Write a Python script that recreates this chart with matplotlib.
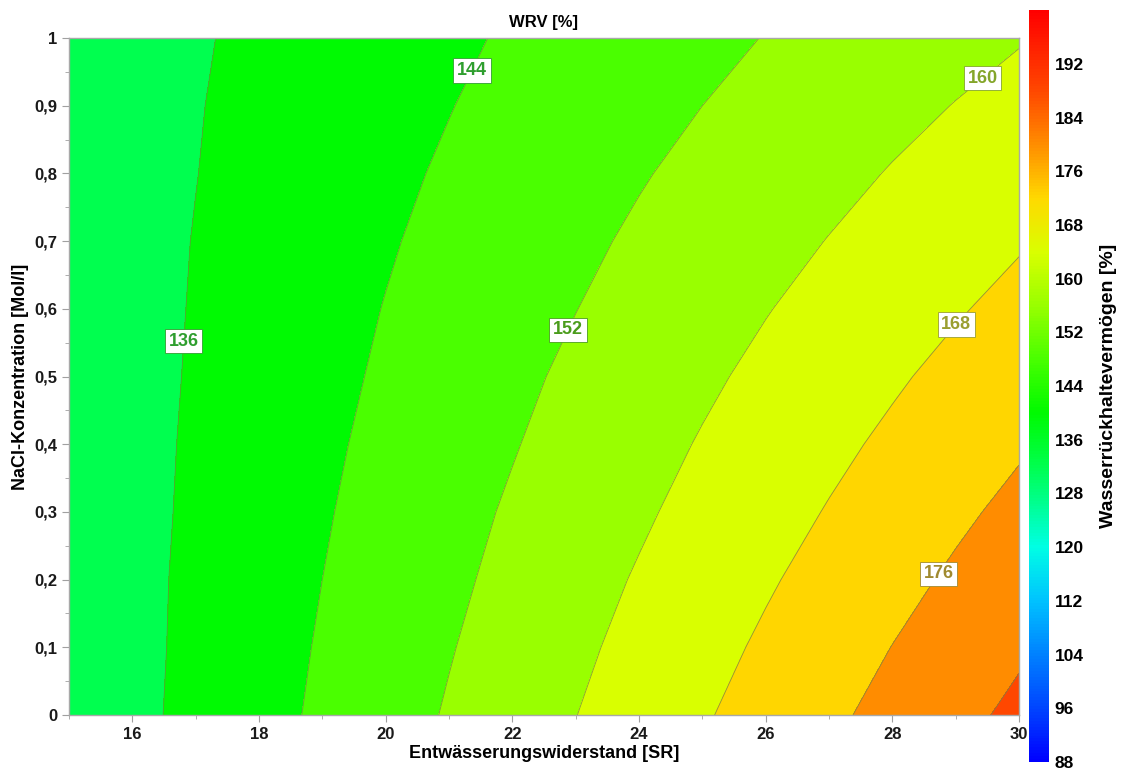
import matplotlib
matplotlib.use("Agg")
import matplotlib.pyplot as plt
import numpy as np
from matplotlib.colors import LinearSegmentedColormap, Normalize
from matplotlib.cm import ScalarMappable
from matplotlib.ticker import FuncFormatter, MultipleLocator

plt.rcParams['font.family'] = ['Liberation Sans', 'DejaVu Sans']

# grid: SR (x) and NaCl concentration (y)
sr_values = np.arange(15, 31, 1)
nacl_values = np.round(np.arange(0, 1.01, 0.1), 1)

# WRV [%] at each grid point, one row per NaCl concentration
wrv_rows = [
    [130.5, 134.2, 137.9, 141.5, 145.2, 148.9, 152.6, 156.2, 159.9, 163.6, 167.3, 170.9, 174.6, 178.3, 182.0, 185.6],
    [130.6, 134.1, 137.6, 141.1, 144.6, 148.1, 151.6, 155.1, 158.6, 162.1, 165.6, 169.1, 172.6, 176.1, 179.5, 183.0],
    [130.8, 134.1, 137.4, 140.7, 144.0, 147.3, 150.6, 153.9, 157.3, 160.6, 163.9, 167.2, 170.5, 173.8, 177.1, 180.4],
    [130.9, 134.0, 137.1, 140.3, 143.4, 146.5, 149.7, 152.8, 155.9, 159.0, 162.2, 165.3, 168.4, 171.6, 174.7, 177.8],
    [131.0, 133.9, 136.9, 139.8, 142.8, 145.7, 148.7, 151.6, 154.6, 157.5, 160.5, 163.4, 166.4, 169.3, 172.3, 175.2],
    [131.1, 133.9, 136.6, 139.4, 142.2, 144.9, 147.7, 150.5, 153.3, 156.0, 158.8, 161.6, 164.3, 167.1, 169.9, 172.6],
    [131.2, 133.8, 136.4, 139.0, 141.6, 144.2, 146.7, 149.3, 151.9, 154.5, 157.1, 159.7, 162.3, 164.8, 167.4, 170.0],
    [131.3, 133.8, 136.2, 138.6, 141.0, 143.4, 145.8, 148.2, 150.6, 153.0, 155.4, 157.8, 160.2, 162.6, 165.0, 167.4],
    [131.5, 133.7, 135.9, 138.1, 140.4, 142.6, 144.8, 147.0, 149.2, 151.5, 153.7, 155.9, 158.1, 160.4, 162.6, 164.8],
    [131.6, 133.6, 135.7, 137.7, 139.7, 141.8, 143.8, 145.9, 147.9, 150.0, 152.0, 154.0, 156.1, 158.1, 160.2, 162.2],
    [131.7, 133.6, 135.4, 137.3, 139.1, 141.0, 142.9, 144.7, 146.6, 148.4, 150.3, 152.2, 154.0, 155.9, 157.7, 159.6],
]

levels = np.arange(88, 201, 8)
cbar_ticks = np.arange(88, 193, 8)
label_spots = [(16.82, 0.552), (21.35, 0.953), (22.88, 0.569),
               (29.43, 0.94), (28.97, 0.58), (28.75, 0.207)]
label_colors = {136: '#2f9e2f', 144: '#2f9e2f', 152: '#4a9c1c',
                160: '#84a52a', 168: '#9a9e30', 176: '#a08a30'}

# colour scale blue -> cyan -> green -> yellow -> orange -> red
cmap_nodes = [
    (88, (0, 0, 255)), (96, (0, 70, 255)), (104, (0, 130, 255)),
    (112, (0, 195, 255)), (120, (0, 255, 228)), (126, (0, 255, 150)),
    (132, (0, 255, 78)), (140, (0, 250, 0)), (148, (72, 255, 0)),
    (156, (152, 255, 0)), (164, (217, 255, 0)), (172, (255, 217, 0)),
    (180, (255, 142, 0)), (188, (255, 72, 0)), (200, (255, 0, 0)),
]
vmin, vmax = 88, 200
cmap = LinearSegmentedColormap.from_list(
    'wrv', [((v - vmin) / (vmax - vmin), tuple(c / 255 for c in rgb)) for v, rgb in cmap_nodes])
norm = Normalize(vmin=vmin, vmax=vmax)

X, Y = np.meshgrid(sr_values, nacl_values)
Z = np.array(wrv_rows)

fig = plt.figure(figsize=(11.34, 7.78), dpi=100)
ax = fig.add_axes([0.0608, 0.081, 0.8378, 0.870])
cax = fig.add_axes([0.9074, 0.0206, 0.0176, 0.9664])

ax.contourf(X, Y, Z, levels=levels, cmap=cmap, norm=norm)
cs = ax.contour(X, Y, Z, levels=levels, colors='#6f8a45', linewidths=0.6, alpha=0.8)
labels = ax.clabel(cs, manual=label_spots, inline=False, fontsize=13, fmt='%d')
for t in labels:
    val = int(round(float(t.get_text())))
    col = label_colors.get(val, '#2f9e2f')
    t.set_rotation(0)
    t.set_color(col)
    t.set_fontweight('bold')
    t.set_bbox(dict(boxstyle='square,pad=0.2', facecolor='white', edgecolor=col,
                    linewidth=0.6))
    t.set_zorder(5)

ax.set_xlim(15, 30)
ax.set_ylim(0, 1)
ax.xaxis.set_major_locator(MultipleLocator(2))
ax.xaxis.set_minor_locator(MultipleLocator(1))
ax.yaxis.set_major_locator(MultipleLocator(0.1))
ax.yaxis.set_minor_locator(MultipleLocator(0.05))
ax.yaxis.set_major_formatter(FuncFormatter(lambda v, p: f"{v:.1f}".replace('.', ',') if abs(v - round(v)) > 1e-6 else f"{int(round(v))}"))
ax.tick_params(which='major', direction='out', length=5, color='#a0a0a0',
               labelsize=12, labelcolor='#1a1a1a')
ax.tick_params(which='minor', direction='out', length=3, color='#a0a0a0')
for lab in ax.get_xticklabels() + ax.get_yticklabels():
    lab.set_fontweight('bold')
for sp in ax.spines.values():
    sp.set_color('#a8a8a8')
    sp.set_linewidth(1)

ax.set_xlabel('Entwässerungswiderstand [SR]', fontsize=13, fontweight='bold', labelpad=2)
ax.set_ylabel('NaCl-Konzentration [Mol/l]', fontsize=13, fontweight='bold', labelpad=4)
ax.set_title('WRV [%]', fontsize=12, fontweight='bold', pad=8)

sm = ScalarMappable(norm=norm, cmap=cmap)
cb = fig.colorbar(sm, cax=cax, ticks=cbar_ticks)
cb.outline.set_visible(False)
cb.ax.tick_params(length=0, labelsize=12.5, pad=4)
for lab in cb.ax.get_yticklabels():
    lab.set_fontweight('bold')
cb.set_label('Wasserrückhaltevermögen [%]', fontsize=14, fontweight='bold', labelpad=12)

fig.savefig('out.png', dpi=100)
